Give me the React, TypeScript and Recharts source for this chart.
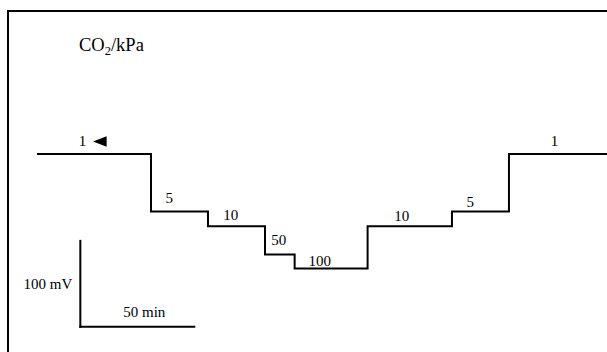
import React from 'react';
import { LineChart, Line, XAxis, YAxis, ReferenceLine, ReferenceDot, Label } from 'recharts';

// Stepped potential trace (time in minutes, potential in mV relative to the 1 kPa level)
const minutes = [0, 50, 75, 100, 113, 145, 182, 207, 250];
const potential = [0, -67, -84, -117, -133, -84, -67, 0, 0];

// CO2 partial pressure annotations (kPa) anchored in data coordinates
const co2Labels = ['1', '5', '10', '50', '100', '10', '5', '1'];
const labelMinutes = [20, 58, 85, 106, 124, 160, 190, 227];
const labelPotential = [9, -57, -77, -106, -130, -78, -62, 9];

// Scale bar: origin corner and lengths
const scaleOriginMinutes = 19;
const scaleOriginMillivolts = -201;
const scaleMinutes = 50;
const scaleMillivolts = 100;

const data = minutes.map((t, i) => ({ t, v: potential[i] }));

const FONT = "'Times New Roman', 'Liberation Serif', serif";

const LevelLabel = (props: any) => {
  const { viewBox, text, arrow } = props;
  const x = viewBox ? viewBox.x + (viewBox.width || 0) / 2 : 0;
  const y = viewBox ? viewBox.y + (viewBox.height || 0) / 2 : 0;
  return (
    <g>
      <text x={x} y={y} textAnchor="middle" fontFamily={FONT} fontSize={15} fill="#000">
        {text}
      </text>
      {arrow && (
        <polygon
          points={`${x + 10.5},${y - 4.8} ${x + 24},${y - 10} ${x + 24},${y + 0.5}`}
          fill="#000"
        />
      )}
    </g>
  );
};

export default function App() {
  return (
    <div style={{ position: 'absolute', left: 0, top: 0, width: 607, height: 352, overflow: 'hidden', background: '#fff' }}>
      <div
        style={{
          position: 'absolute',
          left: 6.7,
          top: 9.7,
          width: 700,
          height: 400,
          border: '2px solid #000',
          boxSizing: 'border-box',
        }}
      />
      <svg width={607} height={352} style={{ position: 'absolute', left: 0, top: 0 }}>
        <text x={79} y={51} fontFamily={FONT} fontSize={18.5} fill="#000">
          CO
          <tspan fontSize={12.5} dy={4}>2</tspan>
          <tspan dy={-4}>/kPa</tspan>
        </text>
      </svg>
      <div style={{ position: 'absolute', left: 0, top: 0 }}>
        <LineChart width={607} height={352} data={data} margin={{ top: 68, right: 0, bottom: 8.8, left: 37 }}>
          <XAxis type="number" dataKey="t" domain={[0, 250]} allowDataOverflow hide />
          <YAxis type="number" domain={[-220, 100]} allowDataOverflow hide />
          <Line
            type="stepAfter"
            dataKey="v"
            stroke="#000"
            strokeWidth={2}
            dot={false}
            activeDot={false}
            isAnimationActive={false}
          />
          <ReferenceLine
            segment={[
              { x: scaleOriginMinutes, y: scaleOriginMillivolts + scaleMillivolts },
              { x: scaleOriginMinutes, y: scaleOriginMillivolts },
            ]}
            stroke="#000"
            strokeWidth={2}
            strokeLinecap="square"
            ifOverflow="visible"
          >
            <Label value="100 mV" position="left" offset={8} fontFamily={FONT} fontSize={15} fill="#000" />
          </ReferenceLine>
          <ReferenceLine
            segment={[
              { x: scaleOriginMinutes, y: scaleOriginMillivolts },
              { x: scaleOriginMinutes + scaleMinutes, y: scaleOriginMillivolts },
            ]}
            stroke="#000"
            strokeWidth={2}
            strokeLinecap="square"
            ifOverflow="visible"
          >
            <Label value="50 min" position="top" offset={10} dx={7} fontFamily={FONT} fontSize={15} fill="#000" />
          </ReferenceLine>
          {co2Labels.map((text, i) => (
            <ReferenceDot
              key={i}
              x={labelMinutes[i]}
              y={labelPotential[i]}
              r={0}
              fill="none"
              stroke="none"
              ifOverflow="visible"
              label={<LevelLabel text={text} arrow={i === 0} />}
            />
          ))}
        </LineChart>
      </div>
    </div>
  );
}
